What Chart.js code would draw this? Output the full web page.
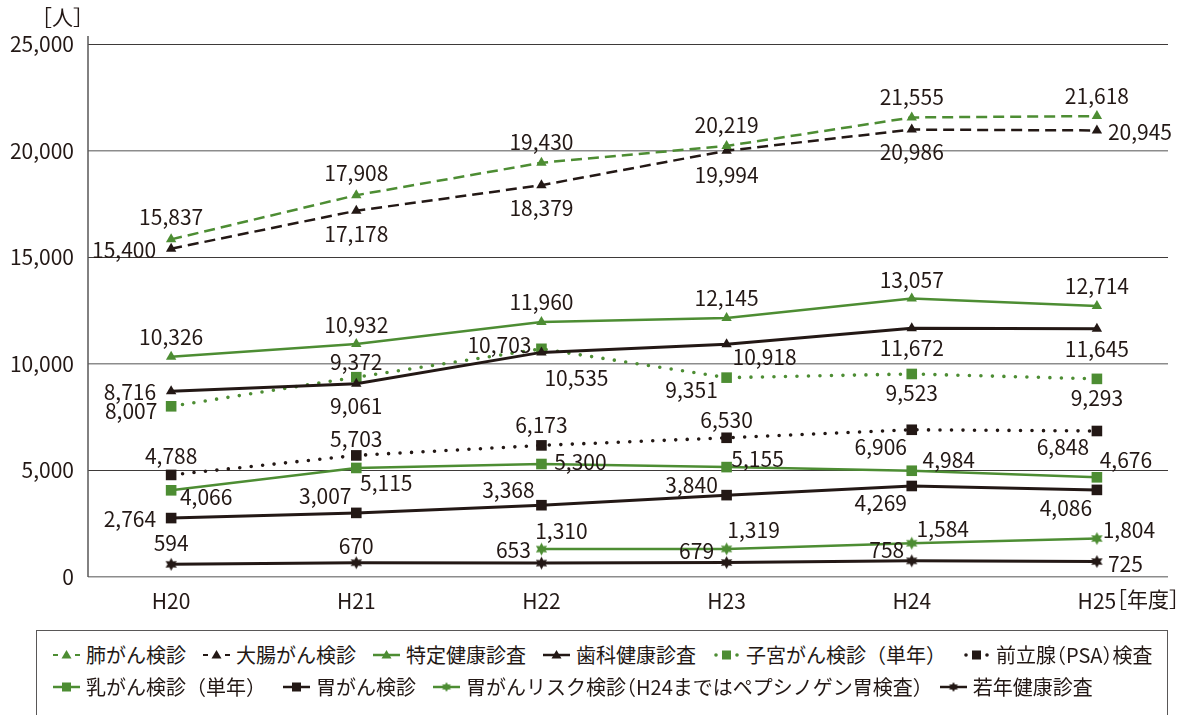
<!DOCTYPE html>
<html lang="ja">
<head>
<meta charset="utf-8">
<script src="https://cdn.jsdelivr.net/npm/chart.js@4.4.1/dist/chart.umd.min.js"></script>
<style>
  html, body { margin: 0; padding: 0; background: #fff; }
  #wrap { position: relative; width: 1181px; height: 715px; overflow: hidden; font-family: "Noto Sans CJK JP", sans-serif; }
  #chart { position: absolute; left: 0; top: 0; }
  #legend {
    position: absolute; left: 36px; top: 630px; width: 1132px; height: 110px;
    border: 1.5px solid #595757; box-sizing: border-box;
    padding: 12px 0 0 16px;
    display: flex; flex-wrap: wrap; align-content: flex-start;
    column-gap: 17px; row-gap: 8px;
  }
  .item { display: flex; align-items: center; height: 24px; font-size: 20px; line-height: 24px; color: #231815; white-space: nowrap; }
  .item canvas { margin-right: 6px; }
  .item .p { font-feature-settings: "halt"; }
</style>
</head>
<body>
<div id="wrap">
  <canvas id="chart" width="1181" height="628"></canvas>
  <div id="legend"></div>
</div>
<script>
// 年度
const years = ['H20', 'H21', 'H22', 'H23', 'H24', 'H25'];

// 受診者数 [人]
const lungCancer      = [15837, 17908, 19430, 20219, 21555, 21618];
const colonCancer     = [15400, 17178, 18379, 19994, 20986, 20945];
const specificCheckup = [10326, 10932, 11960, 12145, 13057, 12714];
const dentalCheckup   = [8716, 9061, 10535, 10918, 11672, 11645];
const uterineCancer   = [8007, 9372, 10703, 9351, 9523, 9293];
const prostatePSA     = [4788, 5703, 6173, 6530, 6906, 6848];
const breastCancer    = [4066, 5115, 5300, 5155, 4984, 4676];
const stomachCancer   = [2764, 3007, 3368, 3840, 4269, 4086];
const stomachRisk     = [null, null, 1310, 1319, 1584, 1804];
const youthCheckup    = [594, 670, 653, 679, 758, 725];

const yMax = 25000;
const yStep = 5000;

const GREEN = '#4d8d33';
const BLACK = '#231815';
const TEXT = '#231815';
const FONT = '"Noto Sans CJK JP", sans-serif';

// six-pointed star marker
function makeStar(color, r) {
  const s = Math.ceil(r * 2 + 2);
  const c = document.createElement('canvas');
  c.width = c.height = s;
  const g = c.getContext('2d');
  g.fillStyle = color;
  g.beginPath();
  for (let k = 0; k < 12; k++) {
    const ang = -Math.PI / 2 + k * Math.PI / 6;
    const rr = k % 2 ? r * 0.55 : r;
    g.lineTo(s / 2 + rr * Math.cos(ang), s / 2 + rr * Math.sin(ang));
  }
  g.closePath();
  g.fill();
  return c;
}

// label placement per point: [dx, dy] from the point, 'l' = left of it, 'r' = right of it
const series = [
  { label: '肺がん検診', data: lungCancer, color: GREEN, line: 'dash', marker: 'triangle',
    place: [[0, -22], [0, -22], [0, -21], [0, -21], [0, -20], [0, -20]] },
  { label: '大腸がん検診', data: colonCancer, color: BLACK, line: 'dash', marker: 'triangle',
    place: ['l', [0, 23], [0, 23], [0, 24], [0, 22], 'r'] },
  { label: '特定健康診査', data: specificCheckup, color: GREEN, line: 'solid', marker: 'triangle',
    place: [[0, -20], [0, -19], [0, -20], [0, -20], [0, -19], [0, -20]] },
  { label: '歯科健康診査', data: dentalCheckup, color: BLACK, line: 'solid', marker: 'triangle',
    place: ['l', [0, 22], [35, 26], [38, 13], [0, 20], [0, 20]] },
  { label: '子宮がん検診（単年）', data: uterineCancer, color: GREEN, line: 'dot', marker: 'rect',
    place: [[-40, 5], [0, -15], [-42, -4], [-35, 12], [0, 19], [0, 19]] },
  { label: '前立腺（PSA）検査', data: prostatePSA, color: BLACK, line: 'dot', marker: 'rect', halfParens: true,
    place: [[0, -19], [0, -16], [0, -20], [0, -18], [-31, 17], [-34, 16]] },
  { label: '乳がん検診（単年）', data: breastCancer, color: GREEN, line: 'solid', marker: 'rect',
    place: [[35, 7], [30, 15], [39, -2], [31, -8], [37, -11], [29, -17]] },
  { label: '胃がん検診', data: stomachCancer, color: BLACK, line: 'solid', marker: 'rect',
    place: ['l', [-31, -17], [-33, -15], [-35, -10], [-31, 17], [-31, 18]] },
  { label: '胃がんリスク検診（H24まではペプシノゲン胃検査）', data: stomachRisk, color: GREEN, line: 'solid', marker: 'star', halfParens: true,
    place: [null, null, [20, -18], [27, -19], [31, -14], [32, -9]] },
  { label: '若年健康診査', data: youthCheckup, color: BLACK, line: 'solid', marker: 'star',
    place: [[0, -21], [0, -17], [-28, -13], [-30, -12], [-25, -11], 'r'] }
];

function datasetFor(s) {
  const ds = {
    label: s.label,
    data: s.data.map((v, i) => ({ x: i, y: v })),
    borderColor: s.color,
    backgroundColor: s.color,
    pointBackgroundColor: s.color,
    pointBorderWidth: 0,
    borderWidth: s.color === BLACK ? 3 : 2.5,
    tension: 0,
    fill: false
  };
  if (s.line === 'dash') {
    ds.borderDash = [11, 6];
    ds.borderWidth = 2.5;
  } else if (s.line === 'dot') {
    ds.borderDash = [0, 11.5];
    ds.borderCapStyle = 'round';
    ds.borderWidth = 3.6;
  }
  if (s.marker === 'triangle') {
    ds.pointStyle = 'triangle';
    ds.pointRadius = 6;
  } else if (s.marker === 'rect') {
    ds.pointStyle = 'rect';
    ds.pointRadius = 7.5;
  } else {
    ds.pointStyle = makeStar(s.color, 6.5);
    ds.pointRadius = 6;
  }
  return ds;
}

// value labels next to each point
const valueLabels = {
  id: 'valueLabels',
  afterDatasetsDraw(chart) {
    const ctx = chart.ctx;
    ctx.save();
    ctx.font = '21px ' + FONT;
    ctx.fillStyle = TEXT;
    ctx.textBaseline = 'middle';
    series.forEach((s, i) => {
      const meta = chart.getDatasetMeta(i);
      s.data.forEach((v, j) => {
        if (v == null) return;
        const pt = meta.data[j];
        const p = s.place[j];
        const txt = v.toLocaleString('en-US');
        if (p === 'l') {
          ctx.textAlign = 'right';
          ctx.fillText(txt, pt.x - 15, pt.y + 1);
        } else if (p === 'r') {
          ctx.textAlign = 'left';
          ctx.fillText(txt, pt.x + 11, pt.y + 2);
        } else {
          ctx.textAlign = 'center';
          ctx.fillText(txt, pt.x + p[0], pt.y + p[1]);
        }
      });
    });
    ctx.restore();
  }
};

// y axis line and unit captions
const axisDecor = {
  id: 'axisDecor',
  beforeDatasetsDraw(chart) {
    const { ctx, chartArea } = chart;
    ctx.save();
    ctx.strokeStyle = '#595757';
    ctx.lineWidth = 1.5;
    ctx.beginPath();
    ctx.moveTo(chartArea.left, chartArea.top - 8);
    ctx.lineTo(chartArea.left, chartArea.bottom);
    ctx.stroke();
    ctx.restore();
  },
  afterDraw(chart) {
    const { ctx, chartArea } = chart;
    ctx.save();
    ctx.font = '21px ' + FONT;
    ctx.fillStyle = TEXT;
    ctx.textBaseline = 'middle';
    ctx.textAlign = 'left';
    ctx.fillText('［人］', 31, 17);
    ctx.fillText('［年度］', 1106, chartArea.bottom + 22);
    ctx.restore();
  }
};

new Chart(document.getElementById('chart').getContext('2d'), {
  type: 'line',
  data: { datasets: series.map(datasetFor) },
  options: {
    responsive: false,
    animation: false,
    devicePixelRatio: 1,
    layout: { padding: { top: 44, right: 13, left: 0, bottom: 0 } },
    plugins: { legend: { display: false }, tooltip: { enabled: false } },
    scales: {
      x: {
        type: 'linear',
        min: -0.449,
        max: 5.384,
        grid: { display: false },
        border: { display: false },
        ticks: {
          stepSize: 1,
          includeBounds: false,
          autoSkip: false,
          maxRotation: 0,
          padding: 3,
          color: TEXT,
          font: { family: FONT, size: 21 },
          callback: v => (Number.isInteger(v) && years[v]) ? years[v] : ''
        },
        afterFit: s => { s.height = 51; }
      },
      y: {
        min: 0,
        max: yMax,
        grid: {
          drawTicks: false,
          color: c => (c.tick.value % 10000 === 0 ? '#8c8c8c' : '#3e3a39'),
          lineWidth: c => (c.tick.value % 10000 === 0 ? 1.6 : 1)
        },
        border: { display: false },
        ticks: {
          stepSize: yStep,
          padding: 14,
          color: TEXT,
          font: { family: FONT, size: 21 },
          callback: v => v.toLocaleString('en-US')
        },
        afterFit: s => { s.width = 88; }
      }
    }
  },
  plugins: [axisDecor, valueLabels]
});

// legend box: short line sample with the marker, then the name
function makeIcon(s) {
  const c = document.createElement('canvas');
  c.width = 27; c.height = 16;
  const g = c.getContext('2d');
  const cy = 8, cx = 13.5;
  g.strokeStyle = s.color;
  g.fillStyle = s.color;
  if (s.line === 'dash') {
    g.lineWidth = 2;
    g.beginPath();
    g.moveTo(0, cy); g.lineTo(5, cy);
    g.moveTo(22, cy); g.lineTo(27, cy);
    g.stroke();
  } else if (s.line === 'dot') {
    g.beginPath(); g.arc(3, cy, 1.8, 0, Math.PI * 2); g.fill();
    g.beginPath(); g.arc(24, cy, 1.8, 0, Math.PI * 2); g.fill();
  } else {
    g.lineWidth = 2.5;
    g.beginPath();
    g.moveTo(0, cy); g.lineTo(27, cy);
    g.stroke();
  }
  g.beginPath();
  if (s.marker === 'triangle') {
    g.moveTo(cx, cy - 5); g.lineTo(cx + 5, cy + 3.5); g.lineTo(cx - 5, cy + 3.5);
    g.closePath(); g.fill();
  } else if (s.marker === 'rect') {
    g.fillRect(cx - 4.5, cy - 4.5, 9, 9);
  } else {
    const star = makeStar(s.color, 5);
    g.drawImage(star, cx - star.width / 2, cy - star.height / 2);
  }
  return c;
}

const legendBox = document.getElementById('legend');
series.forEach(s => {
  const item = document.createElement('div');
  item.className = 'item';
  item.appendChild(makeIcon(s));
  const span = document.createElement('span');
  if (s.halfParens) {
    // narrow brackets for the longer names
    s.label.split(/([（）])/).forEach(part => {
      if (!part) return;
      const t = document.createElement('span');
      if (part === '（' || part === '）') t.className = 'p';
      t.textContent = part;
      span.appendChild(t);
    });
  } else {
    span.textContent = s.label;
  }
  item.appendChild(span);
  legendBox.appendChild(item);
});
</script>
</body>
</html>
